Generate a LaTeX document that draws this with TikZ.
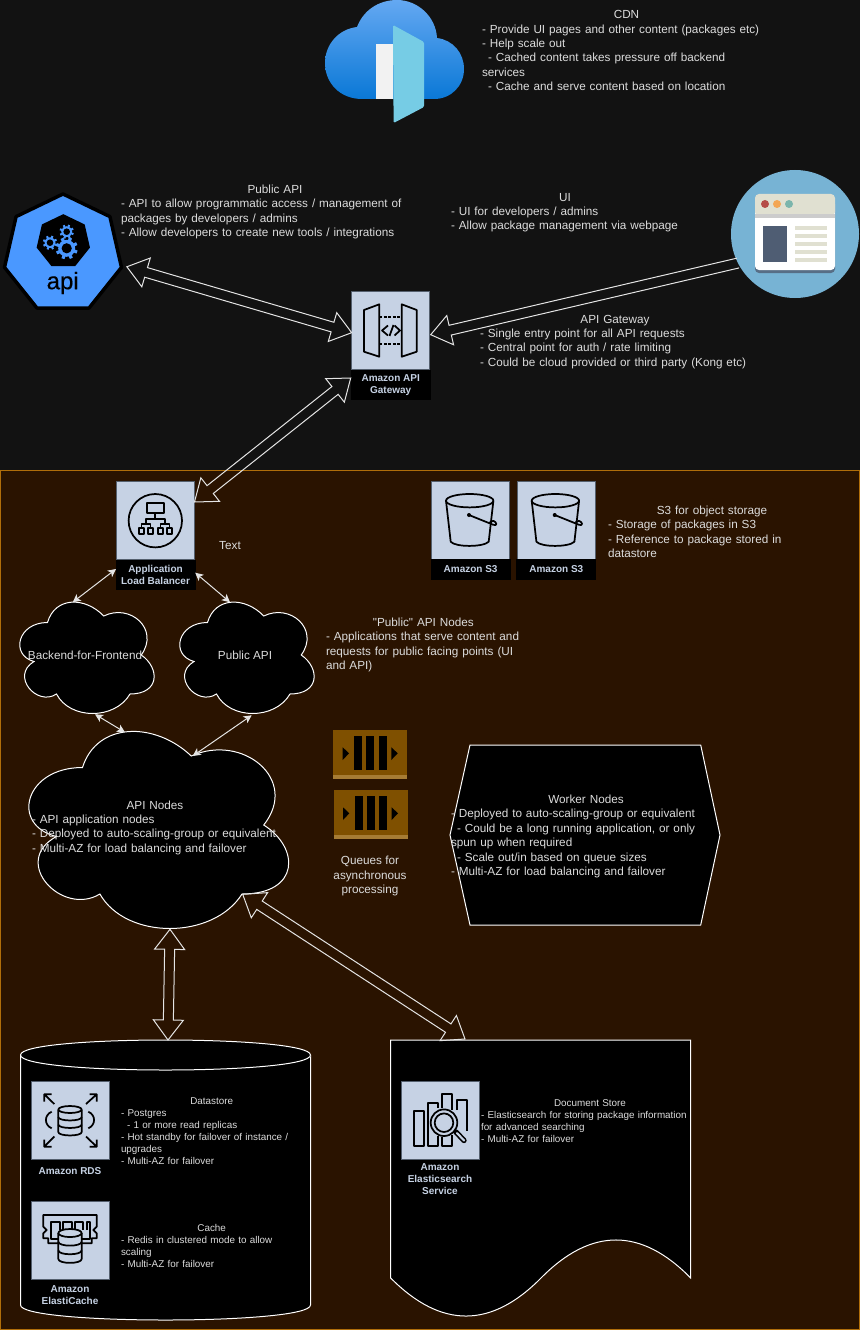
\documentclass[tikz,border=0pt]{standalone}
\usepackage{fontspec}
\setmainfont{Liberation Sans}[Ligatures=TeXOff]
\usepackage{xcolor}
\definecolor{darkbg}{HTML}{121212}
\definecolor{regionbg}{HTML}{2A1300}
\definecolor{regionedge}{HTML}{B06E0A}
\definecolor{notegray}{HTML}{DCDCDC}
\definecolor{arrowgray}{HTML}{E4E4E4}
\definecolor{iconbg}{HTML}{C6D2E4}
\definecolor{iconedge}{HTML}{55606E}
\definecolor{apiblue}{HTML}{4A98FF}
\definecolor{webblue}{HTML}{77B3D4}
\definecolor{webbar}{HTML}{E0E0D1}
\definecolor{webslate}{HTML}{4F5D73}
\definecolor{queuebrown}{HTML}{7F5000}
\definecolor{queuestripe}{HTML}{A67C34}
\definecolor{cdntop}{HTML}{64A8F2}
\definecolor{cdnbottom}{HTML}{0A78D6}
\definecolor{cdndoor}{HTML}{76CCE5}
\usetikzlibrary{calc}
\usetikzlibrary{arrows.meta}
\usetikzlibrary{shapes.geometric}
\newcommand{\notetitle}[1]{\hbox to\hsize{\hfil#1\hfil\hskip 6pt}\\}
\newcommand{\ind}{\hspace*{4.5pt}}
\newcommand{\cloudshape}[4]{
	\begin{scope}[shift={(#1,#2)},x=#3*.75pt,y=-#4*.75pt]
		\draw[shapebox] (.25,.25) .. controls (.05,.25) and (0,.5) .. (.16,.55)
			.. controls (0,.66) and (.18,.9) .. (.31,.8)
			.. controls (.4,1) and (.7,1) .. (.8,.8)
			.. controls (1,.8) and (1,.6) .. (.875,.5)
			.. controls (1,.3) and (.8,.1) .. (.625,.2)
			.. controls (.5,.05) and (.3,.05) .. (.25,.25) -- cycle;
	\end{scope}
}
\newcommand{\gearicon}[3]{
	\foreach \a in {0,45,...,315}
		\draw[apiblue,line width=#3*.28pt] ($(#1,#2)+(\a+20:#3*.8)$) -- ($(#1,#2)+(\a+20:#3*1.3)$);
	\fill[apiblue] (#1,#2) circle (#3);
	\fill[black] (#1,#2) circle (#3*.6);
}
\tikzset{
	note/.style={text=notegray,font=\fontsize{8.8}{10.8}\selectfont,align=left,anchor=north west,inner sep=0pt,outer sep=0pt},
	smallnote/.style={note,font=\fontsize{7.4}{9}\selectfont},
	plainnote/.style={text=notegray,font=\fontsize{8.8}{10.8}\selectfont,align=center,inner sep=0pt},
	shapebox/.style={draw=white,fill=black,line width=.75pt},
	iconbox/.style={draw=iconedge,fill=iconbg,line width=.75pt,minimum size=58.5pt,inner sep=0pt,outer sep=0pt},
	iconlabel/.style={text=iconbg,font=\bfseries\fontsize{7.5}{9}\selectfont,align=center,inner sep=0pt,outer sep=0pt},
	labelbox/.style={iconlabel,fill=black,minimum width=60pt},
	iconline/.style={draw=black,line width=1.3pt,line join=round},
	thinarrow/.style={draw=arrowgray,line width=.75pt,arrows={Stealth[length=6pt,width=6pt,inset=1.5pt]-Stealth[length=6pt,width=6pt,inset=1.5pt]}},
	flexline/.style={draw=arrowgray,line width=.75pt,line join=miter},
	twoway/.style={flexline,to path={
		-- ($(\tikztostart)!15pt!(\tikztotarget)!11.25pt!90:(\tikztotarget)$)
		-- ($(\tikztostart)!15pt!(\tikztotarget)!3.75pt!90:(\tikztotarget)$)
		-- ($(\tikztotarget)!15pt!(\tikztostart)!3.75pt!-90:(\tikztostart)$)
		-- ($(\tikztotarget)!15pt!(\tikztostart)!11.25pt!-90:(\tikztostart)$)
		-- (\tikztotarget)
		-- ($(\tikztotarget)!15pt!(\tikztostart)!11.25pt!90:(\tikztostart)$)
		-- ($(\tikztotarget)!15pt!(\tikztostart)!3.75pt!90:(\tikztostart)$)
		-- ($(\tikztostart)!15pt!(\tikztotarget)!3.75pt!-90:(\tikztotarget)$)
		-- ($(\tikztostart)!15pt!(\tikztotarget)!11.25pt!-90:(\tikztotarget)$)
		-- cycle}},
	oneway/.style={flexline,to path={
		($(\tikztostart)!3.75pt!90:(\tikztotarget)$)
		-- ($(\tikztotarget)!15pt!(\tikztostart)!3.75pt!-90:(\tikztostart)$)
		-- ($(\tikztotarget)!15pt!(\tikztostart)!11.25pt!-90:(\tikztostart)$)
		-- (\tikztotarget)
		-- ($(\tikztotarget)!15pt!(\tikztostart)!11.25pt!90:(\tikztostart)$)
		-- ($(\tikztotarget)!15pt!(\tikztostart)!3.75pt!90:(\tikztostart)$)
		-- ($(\tikztostart)!3.75pt!-90:(\tikztotarget)$)}},
	bucketicon/.pic={
		\draw[iconline] (38.4,19.4) circle [x radius=23.7,y radius=6.7];
		\draw[iconline] (14.7,19.4) -- (19.4,60.4) .. controls (24,66) and (52,66) .. (57.4,60.4) -- (62.1,19.4);
		\fill (37.7,33.7) circle (2);
		\draw[iconline] (37.7,33.7) -- (62,43.5) .. controls (66,45) and (66,41) .. (62,39.5) -- (58.5,41);
	},
	queueicon/.pic={
		\fill[queuebrown] (0,0) rectangle (74,49);
		\fill[queuestripe] (0,45) rectangle (74,49);
		\foreach \x in {21,33,45.4} \fill[black] (\x,6) rectangle (\x+8,40);
		\fill[black] (9.4,17.3) -- (15.7,23.3) -- (9.4,30) -- cycle;
		\fill[black] (58,17.3) -- (64.4,23.3) -- (58,30) -- cycle;
	},
	drumicon/.pic={
		\fill[iconbg] (-11.7,3.5) -- (-11.7,26) .. controls (-11.7,30.6) and (11.7,30.6) .. (11.7,26) -- (11.7,3.5) -- (0,0) -- cycle;
		\draw[iconline] (0,3.5) circle [x radius=11.7,y radius=3.5];
		\draw[iconline] (-11.7,3.5) -- (-11.7,26) .. controls (-11.7,30.6) and (11.7,30.6) .. (11.7,26) -- (11.7,3.5);
		\foreach \y in {11,18.5} \draw[iconline] (-11.7,\y) .. controls (-11.7,\y+4.6) and (11.7,\y+4.6) .. (11.7,\y);
	},
}
\begin{document}
\begin{tikzpicture}[x=.75pt,y=-.75pt]
	\useasboundingbox (0,0) rectangle (860,1330);
	\fill[darkbg] (0,0) rectangle (860,1330);
	\draw[regionedge,fill=regionbg,line width=.75pt] (.5,470.5) rectangle (859.5,1329.5);

	\shade[top color=cdntop,bottom color=cdnbottom] (362,99) .. controls (340,99) and (325,83) .. (325,63) .. controls (325,44) and (339,29) .. (357,27)
		.. controls (363,11) and (378,0) .. (397,0) .. controls (418,0) and (436,17) .. (437,38)
		.. controls (453,40) and (464,53) .. (464,69) .. controls (464,86) and (451,99) .. (434,99) -- cycle;
	\fill[white!95!black] (376,44) rectangle (393,99);
	\fill[cdndoor,rounded corners=1pt] (393,25) -- (424,42) -- (424,107) -- (393.6,123) -- cycle;
	\node[note,text width=222.75pt] (ncdn) at (482,10.5) {\notetitle{CDN}- Provide UI pages and other content (packages etc)\\- Help scale out\\\ind- Cached content takes pressure off backend\\services\\\ind- Cache and serve content based on location};

	\node[regular polygon,regular polygon sides=7,draw=black,fill=apiblue,line width=2.6pt,line join=round,minimum size=90pt,inner sep=0pt] (napi) at (63,254) {};
	\node[regular polygon,regular polygon sides=7,fill=black,minimum size=41pt,inner sep=0pt] (ncore) at (63.3,241.5) {};
	\gearicon{66.7}{248.3}{8.5}
	\gearicon{50}{242.7}{5.5}
	\gearicon{66.7}{231.7}{5.5}
	\node[text=black,font=\fontsize{18}{18}\addfontfeatures{FakeBold=0.4}\selectfont,inner sep=0pt] (napilabel) at (62.7,283) {api};
	\node[note,text width=237pt] (npublic) at (121,185) {\notetitle{Public API}- API to allow programmatic access / management of\\packages by developers / admins\\- Allow developers to create new tools / integrations};
	\node[note,text width=177pt] (nui) at (451,193) {\notetitle{UI}- UI for developers / admins\\- Allow package management via webpage};

	\node[circle,fill=webblue,minimum size=96pt,inner sep=0pt,outer sep=0pt] (nweb) at (795,234) {};
	\fill[webslate!80!webblue,rounded corners=3pt] (755,200) rectangle (835,273);
	\fill[white,rounded corners=3pt] (755,200) rectangle (835,270);
	\fill[webbar,rounded corners=3pt] (755,194) rectangle (835,216);
	\fill[black!20] (755,214) rectangle (835,218);
	\fill[red!55!webbar!75!black] (765,204) circle (4);
	\fill[orange!60!webbar] (777,204) circle (4);
	\fill[teal!45!webbar] (789,204) circle (4);
	\fill[webslate] (763,226) rectangle (787,262);
	\foreach \y in {226,234,242,250,258} \fill[webbar] (795,\y) rectangle (827,\y+4);

	\node[iconbox] (ngateway) at (390.7,330.7) {};
	\node[labelbox,minimum height=22.5pt] (ngatewaylabel) at (390.7,385) {Amazon API\\Gateway};
	\draw[iconline] (364,310) -- (379.3,304.3) -- (379.3,356.7) -- (364,351.7) -- cycle;
	\draw[iconline] (401.7,304.3) -- (416.7,310) -- (416.7,351.7) -- (401.7,356.7) -- cycle;
	\draw[iconline,dash pattern=on 2.2pt off 1.2pt] (379.3,316.7) -- (401.7,316.7);
	\draw[iconline,dash pattern=on 2.2pt off 1.2pt] (379.3,344.3) -- (401.7,344.3);
	\draw[iconline] (388,325.5) -- (382,330.5) -- (388,335.5);
	\draw[iconline] (393.5,325) -- (389.5,336);
	\draw[iconline] (394.5,325.5) -- (400,330.5) -- (394.5,335.5);
	\node[note,text width=208.5pt] (ngatewaynote) at (480,315) {\notetitle{API Gateway}- Single entry point for all API requests\\- Central point for auth / rate limiting\\- Could be cloud provided or third party (Kong etc)};

	\node[iconbox] (nlb) at (155.5,520.5) {};
	\node[labelbox,minimum height=22.5pt] (nlblabel) at (155.5,575) {Application\\Load Balancer};
	\draw[iconline] (155.3,520.7) circle (26.7);
	\draw[iconline] (146.7,503.3) rectangle (164.3,512.7);
	\draw[iconline] (155.3,512.7) -- (155.3,519) (146,524) -- (146,519) -- (165,519) -- (165,524);
	\draw[iconline] (141.5,528) -- (141.5,524) -- (150.5,524) -- (150.5,528) (160.5,528) -- (160.5,524) -- (169.5,524) -- (169.5,528);
	\foreach \x in {139.3,148,158,166.7} \draw[iconline] (\x,528.3) rectangle (\x+5,534.3);
	\node[plainnote] (ntext) at (230,545.5) {Text};

	\node[iconbox] (ns3a) at (470.6,520.3) {};
	\node[labelbox,minimum height=15.75pt] (ns3alabel) at (470.6,569.5) {Amazon S3};
	\pic at (431.3,481.3) {bucketicon};
	\node[iconbox] (ns3b) at (556.3,520.3) {};
	\node[labelbox,minimum height=15.75pt] (ns3blabel) at (556.3,569.5) {Amazon S3};
	\pic at (517,481.3) {bucketicon};
	\node[note,text width=162pt] (ns3note) at (608,506) {\notetitle{S3 for object storage}- Storage of packages in S3\\- Reference to package stored in\\datastore};

	\cloudshape{10}{590}{150}{130}
	\node[plainnote,minimum width=112.5pt,minimum height=97.5pt] (nbff) at (85,655) {Backend-for-Frontend};
	\cloudshape{170}{590}{150}{130}
	\node[plainnote,minimum width=112.5pt,minimum height=97.5pt] (npublicapi) at (245,655) {Public API};
	\node[note,text width=152pt] (npublicnote) at (326,618) {\notetitle{"Public" API Nodes}- Applications that serve content and\\requests for public facing points (UI\\and API)};

	\cloudshape{10}{710}{290}{230}
	\node[note,text width=190.5pt] (nworkers) at (32,800.5) {\notetitle{API Nodes}- API application nodes\\- Deployed to auto-scaling-group or equivalent\\- Multi-AZ for load balancing and failover};
	\coordinate (napitopleft) at (125,732.3);
	\coordinate (napitopright) at (192.7,756);
	\coordinate (napibottom) at (170,929.3);
	\coordinate (napilowright) at (242.7,894.3);

	\pic at (333.3,730) {queueicon};
	\pic at (333.6,790) {queueicon};
	\node[plainnote] (nqueues) at (370,876.2) {Queues for\\asynchronous\\processing};

	\draw[shapebox] (470,745) -- (700.7,745) -- (720,835) -- (700.7,925) -- (470,925) -- (450,835) -- cycle;
	\node[note,text width=208.5pt] (nworkernote) at (451,795) {\notetitle{Worker Nodes}- Deployed to auto-scaling-group or equivalent\\\ind- Could be a long running application, or only\\spun up when required\\\ind- Scale out/in based on queue sizes\\- Multi-AZ for load balancing and failover};

	\draw[shapebox] (20.5,1055) .. controls (20.5,1035) and (310.5,1035) .. (310.5,1055) -- (310.5,1305) .. controls (310.5,1325) and (20.5,1325) .. (20.5,1305) -- cycle;
	\draw[shapebox] (20.5,1055) .. controls (20.5,1075) and (310.5,1075) .. (310.5,1055);
	\coordinate (ndatatop) at (168,1040);
	\node[iconbox] (nrds) at (70.7,1120.3) {};
	\node[iconlabel] (nrdslabel) at (70,1170.7) {Amazon RDS};
	\pic at (70,1106) {drumicon};
	\draw[iconline] (51.7,1111.7) .. controls (44,1115) and (44,1125) .. (51.7,1128.3);
	\draw[iconline] (88.3,1111.7) .. controls (96,1115) and (96,1125) .. (88.3,1128.3);
	\draw[iconline] (54.3,1104) -- (44.3,1094.3) (44.3,1101.5) -- (44.3,1094.3) -- (51.5,1094.3);
	\draw[iconline] (86,1104) -- (96.7,1094.3) (96.7,1101.5) -- (96.7,1094.3) -- (89.5,1094.3);
	\draw[iconline] (54.3,1136.5) -- (44.3,1146.7) (44.3,1139.5) -- (44.3,1146.7) -- (51.5,1146.7);
	\draw[iconline] (86,1136.5) -- (96.7,1146.7) (96.7,1139.5) -- (96.7,1146.7) -- (89.5,1146.7);
	\node[smallnote,text width=142pt] (nrdsnote) at (121,1097.5) {\notetitle{Datastore}- Postgres\\\ind- 1 or more read replicas\\- Hot standby for failover of instance /\\upgrades\\- Multi-AZ for failover};
	\node[iconbox] (ncache) at (70.7,1240.5) {};
	\node[iconlabel] (ncachelabel) at (70,1294.7) {Amazon\\ElastiCache};
	\draw[iconline] (58.3,1243.3) -- (48.3,1243.3) -- (48.3,1238.3) -- (43.3,1238.3) -- (43.3,1233.3) -- (46.7,1230) -- (43.3,1226.7) -- (43.3,1215) -- (96.7,1215) -- (96.7,1226.7) -- (93.3,1230) -- (96.7,1233.3) -- (96.7,1238.3) -- (91.7,1238.3) -- (91.7,1243.3) -- (81.7,1243.3);
	\draw[iconline] (58,1239) -- (51,1239) -- (51,1222) -- (60,1222) -- (60,1230) (63.3,1230) -- (63.3,1222) -- (71.7,1222) -- (71.7,1230) (75,1230) -- (75,1222) -- (83.3,1222) -- (83.3,1230) (87,1230) -- (87,1222) -- (90,1222) -- (90,1239) -- (82,1239);
	\pic[yscale=1.15] at (70,1229) {drumicon};
	\node[smallnote,text width=142pt] (ncachenote) at (121,1224.5) {\notetitle{Cache}- Redis in clustered mode to allow\\scaling\\- Multi-AZ for failover};

	\draw[shapebox] (390.7,1040) -- (690.7,1040) -- (690.7,1278) .. controls (641,1227.3) and (591,1227.3) .. (541,1278) .. controls (491,1328.7) and (441,1328.7) .. (390.7,1278) -- cycle;
	\coordinate (ndoctop) at (465,1039);
	\node[iconbox] (nsearch) at (440.5,1120.5) {};
	\node[iconlabel] (nsearchlabel) at (440,1178.7) {Amazon\\Elasticsearch\\Service};
	\draw[iconline] (414,1110.7) rectangle (424.3,1146);
	\draw[iconline] (438.3,1108) -- (438.3,1103.3) -- (428.3,1103.3) -- (428.3,1146) -- (438.3,1146) -- (438.3,1136);
	\draw[iconline] (442.3,1108) -- (442.3,1094) -- (452.3,1094) -- (452.3,1110) (442.3,1137) -- (442.3,1146) -- (452.3,1146) -- (452.3,1135);
	\draw[iconline] (456.7,1110) -- (456.7,1100) -- (466.7,1100) -- (466.7,1131);
	\draw[black,line width=4pt,line cap=round] (456,1132) -- (464,1140.5);
	\draw[iconbg,line width=1.6pt,line cap=round] (457,1133) -- (464,1140.5);
	\draw[iconline,fill=iconbg] (444,1122.7) circle (13.3);
	\draw[iconline] (444,1122.7) circle (9.3);
	\node[smallnote,text width=169.5pt] (nsearchnote) at (481,1099.5) {\notetitle{Document Store}- Elasticsearch for storing package information\\for advanced searching\\- Multi-AZ for failover};

	\draw[twoway] ([shift={(3.5,-1)}]napi.corner 6) to ([shift={(0,2)}]ngateway.west);
	\draw[oneway] (nweb.207) to ([shift={(1,4)}]ngateway.east);
	\draw[twoway] ([shift={(0,-7)}]ngatewaylabel.west) to ([shift={(0,-18.5)}]nlb.east);
	\draw[twoway] (napibottom) to (ndatatop);
	\draw[twoway] (napilowright) to (ndoctop);
	\draw ([shift={(.5,-6)}]nlblabel.west) edge [thinarrow] ([shift={(-12.3,12.5)}]nbff.north);
	\draw ([shift={(-.3,-2.3)}]nlblabel.east) edge [thinarrow] ([shift={(-15,12.5)}]npublicapi.north);
	\draw ([shift={(10,-6)}]nbff.south) edge [thinarrow] (napitopleft);
	\draw ([shift={(6.7,-5)}]npublicapi.south) edge [thinarrow] (napitopright);
\end{tikzpicture}
\end{document}
